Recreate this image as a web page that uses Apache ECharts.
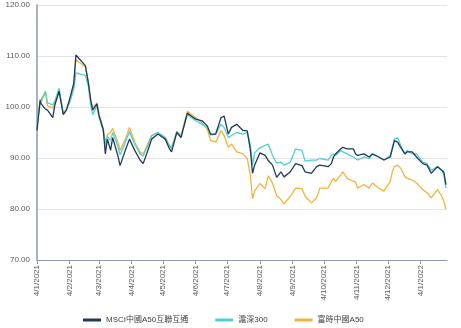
<!DOCTYPE html>
<html>
<head>
<meta charset="utf-8">
<script src="https://cdn.jsdelivr.net/npm/echarts@6/dist/echarts.min.js"></script>
<style>
  html, body { margin: 0; padding: 0; background: #ffffff; }
  #chart { width: 461px; height: 328px; }
</style>
</head>
<body>
<div id="chart"></div>
<script>
// Index levels (rebased) for three China A-share benchmarks, Jan 2021 - Jan 2022
const seriesNames = ['MSCI中國A50互聯互通', '滬深300', '富時中國A50'];

const tradeDates = [
  '2021-01-04','2021-01-07','2021-01-08','2021-01-12','2021-01-14','2021-01-19','2021-01-21','2021-01-25','2021-01-27','2021-01-29',
  '2021-02-01','2021-02-04','2021-02-08','2021-02-10','2021-02-19','2021-02-22','2021-02-24','2021-02-26','2021-03-02','2021-03-04',
  '2021-03-08','2021-03-10','2021-03-12','2021-03-15','2021-03-17','2021-03-22','2021-03-24','2021-03-29','2021-04-02','2021-04-07',
  '2021-04-12','2021-04-15','2021-04-20','2021-04-23','2021-04-29','2021-05-06','2021-05-10','2021-05-12','2021-05-17','2021-05-21',
  '2021-05-27','2021-05-31','2021-06-04','2021-06-10','2021-06-15','2021-06-18','2021-06-23','2021-06-28','2021-07-01','2021-07-05',
  '2021-07-08','2021-07-13','2021-07-19','2021-07-23','2021-07-26','2021-07-28','2021-07-30','2021-08-04','2021-08-09','2021-08-12',
  '2021-08-16','2021-08-20','2021-08-24','2021-08-27','2021-09-02','2021-09-07','2021-09-13','2021-09-16','2021-09-22','2021-09-27',
  '2021-09-30','2021-10-08','2021-10-11','2021-10-13','2021-10-15','2021-10-20','2021-10-22','2021-10-26','2021-11-01','2021-11-03',
  '2021-11-05','2021-11-11','2021-11-16','2021-11-19','2021-11-25','2021-11-30','2021-12-06','2021-12-08','2021-12-10','2021-12-13',
  '2021-12-16','2021-12-20','2021-12-22','2021-12-27','2021-12-31','2022-01-06','2022-01-10','2022-01-14','2022-01-20','2022-01-24',
  '2022-01-26','2022-01-28'
];

const msciA50 = [
  95.4,101.3,100.6,99.6,99.4,97.9,100.4,103.1,100.8,98.5,
  99.4,101.5,104.6,110.2,108.1,104.6,101.5,99.4,100.6,98.3,
  95.6,90.8,93.7,91.5,94.0,90.4,88.5,91.5,93.7,91.5,
  89.6,88.9,91.8,93.7,94.7,93.7,91.8,91.2,95.0,94.0,
  98.8,98.2,97.6,97.3,96.3,94.7,94.7,97.9,98.2,94.7,
  96.0,96.6,95.4,95.3,91.5,87.0,88.6,91.0,90.5,89.5,
  88.6,86.2,87.3,86.3,87.3,88.9,88.5,87.3,87.0,88.3,
  88.6,88.3,88.9,90.2,90.8,91.8,92.1,91.8,91.8,90.8,
  90.5,90.8,90.2,90.8,90.2,89.6,90.2,91.8,93.4,93.1,
  92.1,90.8,91.2,91.2,90.2,88.9,88.6,87.0,88.3,87.6,
  87.2,84.8
];

const csi300 = [
  96.5,101.0,100.8,103.1,100.8,100.4,101.2,103.7,101.2,98.7,
  99.6,100.8,103.5,106.7,106.2,104.0,100.4,98.5,100.2,98.0,
  95.4,92.5,94.2,93.5,95.0,92.3,90.6,93.1,95.2,92.7,
  90.8,90.4,92.7,94.4,95.0,94.0,92.3,91.8,95.2,94.2,
  98.5,97.9,97.3,96.6,96.0,94.5,94.7,96.6,96.0,94.0,
  94.4,95.0,94.7,95.0,92.5,88.6,91.0,92.0,92.5,92.7,
  90.5,89.0,89.2,88.6,89.2,91.8,91.5,89.4,89.6,89.6,
  89.9,89.6,90.5,90.8,90.5,91.5,91.2,90.8,90.2,89.9,
  89.6,90.2,89.9,90.8,90.2,89.6,90.5,92.1,93.7,94.0,
  92.4,90.8,91.5,90.8,90.8,89.2,88.9,87.6,88.3,87.6,
  86.7,84.1
];

const ftseA50 = [
  96.3,101.6,101.0,102.8,100.2,99.8,100.8,103.1,101.0,98.7,
  99.6,101.3,104.6,109.2,107.9,104.6,101.3,99.8,100.8,98.7,
  95.8,93.1,94.6,95.0,95.8,93.1,91.5,93.7,96.0,93.1,
  91.2,90.8,93.1,94.4,95.0,94.0,92.5,92.1,95.2,94.4,
  99.2,98.5,97.9,96.9,95.6,93.5,93.1,95.4,94.4,92.1,
  92.7,91.2,90.8,89.9,86.5,82.0,83.5,85.0,84.0,86.5,
  85.1,82.6,81.9,81.0,82.5,84.1,84.0,82.5,81.2,82.2,
  84.1,84.1,85.4,86.0,85.4,86.7,87.3,86.0,85.4,85.3,
  84.1,84.8,84.1,85.1,84.1,83.5,85.4,87.3,88.3,88.6,
  88.0,86.3,86.0,85.7,85.1,83.8,83.2,82.2,83.8,82.5,
  81.5,80.0
];

const lineColors = ['#1f3a5f', '#4fd1d3', '#f2b43c'];
const yMin = 70, yMax = 120, yStep = 10;

// Calendar-day category axis so month ticks fall on the 4th of each month
const days = [];
for (let t = Date.UTC(2021, 0, 4); t <= Date.UTC(2022, 0, 29); t += 86400000) days.push(new Date(t));
const categories = days.map(d => d.getUTCDate() + '/' + (d.getUTCMonth() + 1) + '/' + d.getUTCFullYear());
const isoKeys = days.map(d => d.toISOString().slice(0, 10));

function align(values) {
  const byDate = new Map(tradeDates.map((k, i) => [k, values[i]]));
  return isoKeys.map(k => (byDate.has(k) ? byDate.get(k) : null));
}

const isMonthTick = (idx, label) => label.indexOf('4/') === 0;
const font = '"Liberation Sans", Arial, "Noto Sans CJK TC", sans-serif';

const chart = echarts.init(document.getElementById('chart'), null, { renderer: 'canvas' });
chart.setOption({
  animation: false,
  backgroundColor: '#ffffff',
  textStyle: { fontFamily: font },
  grid: { left: 37, right: 14, top: 5, bottom: 68, containLabel: false },
  legend: {
    data: seriesNames,
    left: 78,
    top: 311,
    icon: 'rect',
    itemWidth: 18,
    itemHeight: 3,
    itemGap: 27,
    textStyle: { fontSize: 8, color: '#404040', fontFamily: font }
  },
  xAxis: {
    type: 'category',
    data: categories,
    boundaryGap: false,
    axisLine: { lineStyle: { color: '#8c9aab', width: 1.2 } },
    axisTick: { show: true, interval: isMonthTick, length: 4, lineStyle: { color: '#8c9aab' } },
    axisLabel: { interval: isMonthTick, rotate: 90, fontSize: 8, color: '#595959', margin: 5 },
    splitLine: { show: false }
  },
  yAxis: {
    type: 'value',
    min: yMin,
    max: yMax,
    interval: yStep,
    axisLine: { show: true, lineStyle: { color: '#8c9aab', width: 1.5 } },
    axisTick: { show: false },
    axisLabel: { formatter: v => v.toFixed(2), fontSize: 8, color: '#595959', margin: 7 },
    splitLine: { lineStyle: { color: '#e3e3e3', width: 1 } }
  },
  series: [
    { name: seriesNames[0], data: align(msciA50), z: 4 },
    { name: seriesNames[1], data: align(csi300), z: 3 },
    { name: seriesNames[2], data: align(ftseA50), z: 2 }
  ].map((s, i) => Object.assign({
    type: 'line',
    showSymbol: false,
    connectNulls: true,
    color: lineColors[i],
    lineStyle: { width: 1.3, color: lineColors[i] }
  }, s))
});
</script>
</body>
</html>
